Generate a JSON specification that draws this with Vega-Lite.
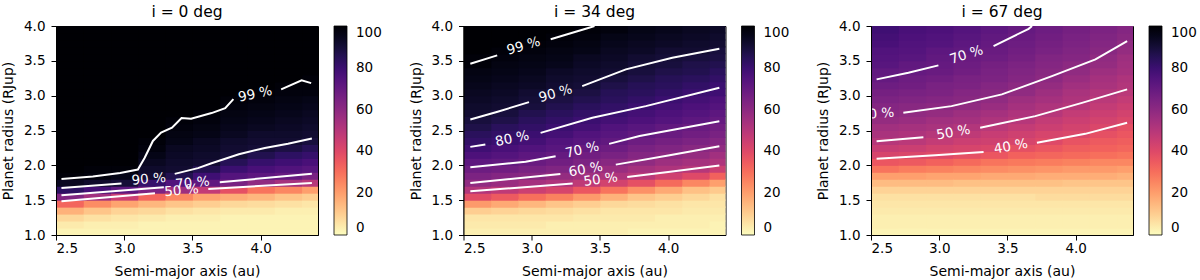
{
"$schema":"https://vega.github.io/schema/vega-lite/v6.json",
"padding":{"left":1,"top":4,"right":0,"bottom":0},
"config":{"font":"DejaVu Sans","view":{"stroke":"black","strokeWidth":1},
"axis":{"grid":false,"domainColor":"black","tickColor":"black","labelColor":"black","titleColor":"black","labelFontSize":13.5,"titleFontSize":14,"titleFontWeight":"normal","tickSize":5,"labelPadding":1,"titlePadding":10,"domainWidth":1,"tickWidth":1},
"axisY":{"labelPadding":6,"titlePadding":8},
"legend":{"labelFontSize":13.5,"labelColor":"black","padding":0},
"title":{"fontSize":15.5,"fontWeight":"normal","color":"black","offset":-1}},
"resolve":{"scale":{"color":"independent"}},
"spacing":25.5,
"datasets":{
"ha":[
{"x":2.5,"y":1,"v":2},{"x":2.5,"y":1.1,"v":4},{"x":2.5,"y":1.2,"v":8},{"x":2.5,"y":1.3,"v":16},{"x":2.5,"y":1.4,"v":32},{"x":2.5,"y":1.5,"v":63},{"x":2.5,"y":1.6,"v":83},{"x":2.5,"y":1.7,"v":94},{"x":2.5,"y":1.8,"v":99},{"x":2.5,"y":1.9,"v":100},{"x":2.5,"y":2,"v":100},{"x":2.5,"y":2.1,"v":100},{"x":2.5,"y":2.2,"v":100},{"x":2.5,"y":2.3,"v":100},{"x":2.5,"y":2.4,"v":100},{"x":2.5,"y":2.5,"v":100},{"x":2.5,"y":2.6,"v":100},{"x":2.5,"y":2.7,"v":100},{"x":2.5,"y":2.8,"v":100},{"x":2.5,"y":2.9,"v":100},{"x":2.5,"y":3,"v":100},{"x":2.5,"y":3.1,"v":100},{"x":2.5,"y":3.2,"v":100},{"x":2.5,"y":3.3,"v":100},{"x":2.5,"y":3.4,"v":100},{"x":2.5,"y":3.5,"v":100},{"x":2.5,"y":3.6,"v":100},{"x":2.5,"y":3.7,"v":100},{"x":2.5,"y":3.8,"v":100},{"x":2.5,"y":3.9,"v":100},
{"x":2.7,"y":1,"v":2},{"x":2.7,"y":1.1,"v":3},{"x":2.7,"y":1.2,"v":6},{"x":2.7,"y":1.3,"v":12},{"x":2.7,"y":1.4,"v":24},{"x":2.7,"y":1.5,"v":55},{"x":2.7,"y":1.6,"v":78},{"x":2.7,"y":1.7,"v":92},{"x":2.7,"y":1.8,"v":98},{"x":2.7,"y":1.9,"v":99},{"x":2.7,"y":2,"v":100},{"x":2.7,"y":2.1,"v":100},{"x":2.7,"y":2.2,"v":100},{"x":2.7,"y":2.3,"v":100},{"x":2.7,"y":2.4,"v":100},{"x":2.7,"y":2.5,"v":100},{"x":2.7,"y":2.6,"v":100},{"x":2.7,"y":2.7,"v":100},{"x":2.7,"y":2.8,"v":100},{"x":2.7,"y":2.9,"v":100},{"x":2.7,"y":3,"v":100},{"x":2.7,"y":3.1,"v":100},{"x":2.7,"y":3.2,"v":100},{"x":2.7,"y":3.3,"v":100},{"x":2.7,"y":3.4,"v":100},{"x":2.7,"y":3.5,"v":100},{"x":2.7,"y":3.6,"v":100},{"x":2.7,"y":3.7,"v":100},{"x":2.7,"y":3.8,"v":100},{"x":2.7,"y":3.9,"v":100},
{"x":2.9,"y":1,"v":2},{"x":2.9,"y":1.1,"v":3},{"x":2.9,"y":1.2,"v":5},{"x":2.9,"y":1.3,"v":9},{"x":2.9,"y":1.4,"v":19},{"x":2.9,"y":1.5,"v":45},{"x":2.9,"y":1.6,"v":72},{"x":2.9,"y":1.7,"v":90},{"x":2.9,"y":1.8,"v":96},{"x":2.9,"y":1.9,"v":99},{"x":2.9,"y":2,"v":100},{"x":2.9,"y":2.1,"v":100},{"x":2.9,"y":2.2,"v":100},{"x":2.9,"y":2.3,"v":100},{"x":2.9,"y":2.4,"v":100},{"x":2.9,"y":2.5,"v":100},{"x":2.9,"y":2.6,"v":100},{"x":2.9,"y":2.7,"v":100},{"x":2.9,"y":2.8,"v":100},{"x":2.9,"y":2.9,"v":100},{"x":2.9,"y":3,"v":100},{"x":2.9,"y":3.1,"v":100},{"x":2.9,"y":3.2,"v":100},{"x":2.9,"y":3.3,"v":100},{"x":2.9,"y":3.4,"v":100},{"x":2.9,"y":3.5,"v":100},{"x":2.9,"y":3.6,"v":100},{"x":2.9,"y":3.7,"v":100},{"x":2.9,"y":3.8,"v":100},{"x":2.9,"y":3.9,"v":100},
{"x":3.1,"y":1,"v":2},{"x":3.1,"y":1.1,"v":2},{"x":3.1,"y":1.2,"v":4},{"x":3.1,"y":1.3,"v":8},{"x":3.1,"y":1.4,"v":15},{"x":3.1,"y":1.5,"v":32},{"x":3.1,"y":1.6,"v":64},{"x":3.1,"y":1.7,"v":81},{"x":3.1,"y":1.8,"v":91},{"x":3.1,"y":1.9,"v":92},{"x":3.1,"y":2,"v":94},{"x":3.1,"y":2.1,"v":96},{"x":3.1,"y":2.2,"v":98},{"x":3.1,"y":2.3,"v":99},{"x":3.1,"y":2.4,"v":100},{"x":3.1,"y":2.5,"v":100},{"x":3.1,"y":2.6,"v":100},{"x":3.1,"y":2.7,"v":100},{"x":3.1,"y":2.8,"v":100},{"x":3.1,"y":2.9,"v":100},{"x":3.1,"y":3,"v":100},{"x":3.1,"y":3.1,"v":100},{"x":3.1,"y":3.2,"v":100},{"x":3.1,"y":3.3,"v":100},{"x":3.1,"y":3.4,"v":100},{"x":3.1,"y":3.5,"v":100},{"x":3.1,"y":3.6,"v":100},{"x":3.1,"y":3.7,"v":100},{"x":3.1,"y":3.8,"v":100},{"x":3.1,"y":3.9,"v":100},
{"x":3.3,"y":1,"v":2},{"x":3.3,"y":1.1,"v":2},{"x":3.3,"y":1.2,"v":3},{"x":3.3,"y":1.3,"v":6},{"x":3.3,"y":1.4,"v":12},{"x":3.3,"y":1.5,"v":25},{"x":3.3,"y":1.6,"v":56},{"x":3.3,"y":1.7,"v":75},{"x":3.3,"y":1.8,"v":86},{"x":3.3,"y":1.9,"v":91},{"x":3.3,"y":2,"v":92},{"x":3.3,"y":2.1,"v":93},{"x":3.3,"y":2.2,"v":94},{"x":3.3,"y":2.3,"v":96},{"x":3.3,"y":2.4,"v":97},{"x":3.3,"y":2.5,"v":98},{"x":3.3,"y":2.6,"v":99},{"x":3.3,"y":2.7,"v":100},{"x":3.3,"y":2.8,"v":100},{"x":3.3,"y":2.9,"v":100},{"x":3.3,"y":3,"v":100},{"x":3.3,"y":3.1,"v":100},{"x":3.3,"y":3.2,"v":100},{"x":3.3,"y":3.3,"v":100},{"x":3.3,"y":3.4,"v":100},{"x":3.3,"y":3.5,"v":100},{"x":3.3,"y":3.6,"v":100},{"x":3.3,"y":3.7,"v":100},{"x":3.3,"y":3.8,"v":100},{"x":3.3,"y":3.9,"v":100},
{"x":3.5,"y":1,"v":2},{"x":3.5,"y":1.1,"v":2},{"x":3.5,"y":1.2,"v":3},{"x":3.5,"y":1.3,"v":5},{"x":3.5,"y":1.4,"v":10},{"x":3.5,"y":1.5,"v":19},{"x":3.5,"y":1.6,"v":47},{"x":3.5,"y":1.7,"v":71},{"x":3.5,"y":1.8,"v":79},{"x":3.5,"y":1.9,"v":86},{"x":3.5,"y":2,"v":91},{"x":3.5,"y":2.1,"v":92},{"x":3.5,"y":2.2,"v":93},{"x":3.5,"y":2.3,"v":94},{"x":3.5,"y":2.4,"v":96},{"x":3.5,"y":2.5,"v":97},{"x":3.5,"y":2.6,"v":98},{"x":3.5,"y":2.7,"v":99},{"x":3.5,"y":2.8,"v":100},{"x":3.5,"y":2.9,"v":100},{"x":3.5,"y":3,"v":100},{"x":3.5,"y":3.1,"v":100},{"x":3.5,"y":3.2,"v":100},{"x":3.5,"y":3.3,"v":100},{"x":3.5,"y":3.4,"v":100},{"x":3.5,"y":3.5,"v":100},{"x":3.5,"y":3.6,"v":100},{"x":3.5,"y":3.7,"v":100},{"x":3.5,"y":3.8,"v":100},{"x":3.5,"y":3.9,"v":100},
{"x":3.7,"y":1,"v":2},{"x":3.7,"y":1.1,"v":2},{"x":3.7,"y":1.2,"v":2},{"x":3.7,"y":1.3,"v":4},{"x":3.7,"y":1.4,"v":8},{"x":3.7,"y":1.5,"v":17},{"x":3.7,"y":1.6,"v":38},{"x":3.7,"y":1.7,"v":65},{"x":3.7,"y":1.8,"v":74},{"x":3.7,"y":1.9,"v":80},{"x":3.7,"y":2,"v":85},{"x":3.7,"y":2.1,"v":90},{"x":3.7,"y":2.2,"v":91},{"x":3.7,"y":2.3,"v":92},{"x":3.7,"y":2.4,"v":94},{"x":3.7,"y":2.5,"v":95},{"x":3.7,"y":2.6,"v":96},{"x":3.7,"y":2.7,"v":97},{"x":3.7,"y":2.8,"v":98},{"x":3.7,"y":2.9,"v":99},{"x":3.7,"y":3,"v":100},{"x":3.7,"y":3.1,"v":100},{"x":3.7,"y":3.2,"v":100},{"x":3.7,"y":3.3,"v":100},{"x":3.7,"y":3.4,"v":100},{"x":3.7,"y":3.5,"v":100},{"x":3.7,"y":3.6,"v":100},{"x":3.7,"y":3.7,"v":100},{"x":3.7,"y":3.8,"v":100},{"x":3.7,"y":3.9,"v":100},
{"x":3.9,"y":1,"v":2},{"x":3.9,"y":1.1,"v":2},{"x":3.9,"y":1.2,"v":2},{"x":3.9,"y":1.3,"v":4},{"x":3.9,"y":1.4,"v":7},{"x":3.9,"y":1.5,"v":15},{"x":3.9,"y":1.6,"v":29},{"x":3.9,"y":1.7,"v":59},{"x":3.9,"y":1.8,"v":72},{"x":3.9,"y":1.9,"v":77},{"x":3.9,"y":2,"v":81},{"x":3.9,"y":2.1,"v":86},{"x":3.9,"y":2.2,"v":90},{"x":3.9,"y":2.3,"v":91},{"x":3.9,"y":2.4,"v":92},{"x":3.9,"y":2.5,"v":94},{"x":3.9,"y":2.6,"v":95},{"x":3.9,"y":2.7,"v":96},{"x":3.9,"y":2.8,"v":97},{"x":3.9,"y":2.9,"v":98},{"x":3.9,"y":3,"v":99},{"x":3.9,"y":3.1,"v":100},{"x":3.9,"y":3.2,"v":100},{"x":3.9,"y":3.3,"v":100},{"x":3.9,"y":3.4,"v":100},{"x":3.9,"y":3.5,"v":100},{"x":3.9,"y":3.6,"v":100},{"x":3.9,"y":3.7,"v":100},{"x":3.9,"y":3.8,"v":100},{"x":3.9,"y":3.9,"v":100},
{"x":4.1,"y":1,"v":2},{"x":4.1,"y":1.1,"v":2},{"x":4.1,"y":1.2,"v":2},{"x":4.1,"y":1.3,"v":3},{"x":4.1,"y":1.4,"v":6},{"x":4.1,"y":1.5,"v":12},{"x":4.1,"y":1.6,"v":25},{"x":4.1,"y":1.7,"v":54},{"x":4.1,"y":1.8,"v":70},{"x":4.1,"y":1.9,"v":75},{"x":4.1,"y":2,"v":79},{"x":4.1,"y":2.1,"v":83},{"x":4.1,"y":2.2,"v":88},{"x":4.1,"y":2.3,"v":91},{"x":4.1,"y":2.4,"v":92},{"x":4.1,"y":2.5,"v":93},{"x":4.1,"y":2.6,"v":94},{"x":4.1,"y":2.7,"v":95},{"x":4.1,"y":2.8,"v":96},{"x":4.1,"y":2.9,"v":97},{"x":4.1,"y":3,"v":98},{"x":4.1,"y":3.1,"v":99},{"x":4.1,"y":3.2,"v":100},{"x":4.1,"y":3.3,"v":100},{"x":4.1,"y":3.4,"v":100},{"x":4.1,"y":3.5,"v":100},{"x":4.1,"y":3.6,"v":100},{"x":4.1,"y":3.7,"v":100},{"x":4.1,"y":3.8,"v":100},{"x":4.1,"y":3.9,"v":100},
{"x":4.3,"y":1,"v":2},{"x":4.3,"y":1.1,"v":2},{"x":4.3,"y":1.2,"v":2},{"x":4.3,"y":1.3,"v":3},{"x":4.3,"y":1.4,"v":5},{"x":4.3,"y":1.5,"v":10},{"x":4.3,"y":1.6,"v":20},{"x":4.3,"y":1.7,"v":50},{"x":4.3,"y":1.8,"v":65},{"x":4.3,"y":1.9,"v":73},{"x":4.3,"y":2,"v":77},{"x":4.3,"y":2.1,"v":81},{"x":4.3,"y":2.2,"v":85},{"x":4.3,"y":2.3,"v":89},{"x":4.3,"y":2.4,"v":91},{"x":4.3,"y":2.5,"v":92},{"x":4.3,"y":2.6,"v":93},{"x":4.3,"y":2.7,"v":94},{"x":4.3,"y":2.8,"v":95},{"x":4.3,"y":2.9,"v":96},{"x":4.3,"y":3,"v":98},{"x":4.3,"y":3.1,"v":99},{"x":4.3,"y":3.2,"v":99},{"x":4.3,"y":3.3,"v":100},{"x":4.3,"y":3.4,"v":100},{"x":4.3,"y":3.5,"v":100},{"x":4.3,"y":3.6,"v":100},{"x":4.3,"y":3.7,"v":100},{"x":4.3,"y":3.8,"v":100},{"x":4.3,"y":3.9,"v":100}
],
"hb":[
{"x":2.5,"y":1,"v":3},{"x":2.5,"y":1.1,"v":4},{"x":2.5,"y":1.2,"v":5},{"x":2.5,"y":1.3,"v":10},{"x":2.5,"y":1.4,"v":21},{"x":2.5,"y":1.5,"v":39},{"x":2.5,"y":1.6,"v":51},{"x":2.5,"y":1.7,"v":59},{"x":2.5,"y":1.8,"v":64},{"x":2.5,"y":1.9,"v":68},{"x":2.5,"y":2,"v":72},{"x":2.5,"y":2.1,"v":76},{"x":2.5,"y":2.2,"v":79},{"x":2.5,"y":2.3,"v":82},{"x":2.5,"y":2.4,"v":84},{"x":2.5,"y":2.5,"v":87},{"x":2.5,"y":2.6,"v":89},{"x":2.5,"y":2.7,"v":91},{"x":2.5,"y":2.8,"v":92},{"x":2.5,"y":2.9,"v":93},{"x":2.5,"y":3,"v":94},{"x":2.5,"y":3.1,"v":95},{"x":2.5,"y":3.2,"v":96},{"x":2.5,"y":3.3,"v":97},{"x":2.5,"y":3.4,"v":99},{"x":2.5,"y":3.5,"v":99},{"x":2.5,"y":3.6,"v":100},{"x":2.5,"y":3.7,"v":100},{"x":2.5,"y":3.8,"v":100},{"x":2.5,"y":3.9,"v":100},
{"x":2.7,"y":1,"v":3},{"x":2.7,"y":1.1,"v":4},{"x":2.7,"y":1.2,"v":5},{"x":2.7,"y":1.3,"v":9},{"x":2.7,"y":1.4,"v":18},{"x":2.7,"y":1.5,"v":35},{"x":2.7,"y":1.6,"v":48},{"x":2.7,"y":1.7,"v":57},{"x":2.7,"y":1.8,"v":62},{"x":2.7,"y":1.9,"v":67},{"x":2.7,"y":2,"v":71},{"x":2.7,"y":2.1,"v":74},{"x":2.7,"y":2.2,"v":77},{"x":2.7,"y":2.3,"v":80},{"x":2.7,"y":2.4,"v":82},{"x":2.7,"y":2.5,"v":84},{"x":2.7,"y":2.6,"v":87},{"x":2.7,"y":2.7,"v":89},{"x":2.7,"y":2.8,"v":91},{"x":2.7,"y":2.9,"v":92},{"x":2.7,"y":3,"v":93},{"x":2.7,"y":3.1,"v":94},{"x":2.7,"y":3.2,"v":95},{"x":2.7,"y":3.3,"v":96},{"x":2.7,"y":3.4,"v":97},{"x":2.7,"y":3.5,"v":98},{"x":2.7,"y":3.6,"v":99},{"x":2.7,"y":3.7,"v":100},{"x":2.7,"y":3.8,"v":100},{"x":2.7,"y":3.9,"v":100},
{"x":2.9,"y":1,"v":3},{"x":2.9,"y":1.1,"v":4},{"x":2.9,"y":1.2,"v":5},{"x":2.9,"y":1.3,"v":8},{"x":2.9,"y":1.4,"v":15},{"x":2.9,"y":1.5,"v":30},{"x":2.9,"y":1.6,"v":45},{"x":2.9,"y":1.7,"v":54},{"x":2.9,"y":1.8,"v":61},{"x":2.9,"y":1.9,"v":65},{"x":2.9,"y":2,"v":69},{"x":2.9,"y":2.1,"v":72},{"x":2.9,"y":2.2,"v":75},{"x":2.9,"y":2.3,"v":78},{"x":2.9,"y":2.4,"v":80},{"x":2.9,"y":2.5,"v":82},{"x":2.9,"y":2.6,"v":84},{"x":2.9,"y":2.7,"v":86},{"x":2.9,"y":2.8,"v":89},{"x":2.9,"y":2.9,"v":90},{"x":2.9,"y":3,"v":91},{"x":2.9,"y":3.1,"v":93},{"x":2.9,"y":3.2,"v":94},{"x":2.9,"y":3.3,"v":95},{"x":2.9,"y":3.4,"v":96},{"x":2.9,"y":3.5,"v":97},{"x":2.9,"y":3.6,"v":98},{"x":2.9,"y":3.7,"v":99},{"x":2.9,"y":3.8,"v":100},{"x":2.9,"y":3.9,"v":100},
{"x":3.1,"y":1,"v":3},{"x":3.1,"y":1.1,"v":3},{"x":3.1,"y":1.2,"v":5},{"x":3.1,"y":1.3,"v":7},{"x":3.1,"y":1.4,"v":12},{"x":3.1,"y":1.5,"v":26},{"x":3.1,"y":1.6,"v":42},{"x":3.1,"y":1.7,"v":52},{"x":3.1,"y":1.8,"v":58},{"x":3.1,"y":1.9,"v":63},{"x":3.1,"y":2,"v":67},{"x":3.1,"y":2.1,"v":70},{"x":3.1,"y":2.2,"v":73},{"x":3.1,"y":2.3,"v":75},{"x":3.1,"y":2.4,"v":78},{"x":3.1,"y":2.5,"v":80},{"x":3.1,"y":2.6,"v":82},{"x":3.1,"y":2.7,"v":84},{"x":3.1,"y":2.8,"v":86},{"x":3.1,"y":2.9,"v":88},{"x":3.1,"y":3,"v":90},{"x":3.1,"y":3.1,"v":91},{"x":3.1,"y":3.2,"v":92},{"x":3.1,"y":3.3,"v":93},{"x":3.1,"y":3.4,"v":95},{"x":3.1,"y":3.5,"v":96},{"x":3.1,"y":3.6,"v":97},{"x":3.1,"y":3.7,"v":98},{"x":3.1,"y":3.8,"v":99},{"x":3.1,"y":3.9,"v":100},
{"x":3.3,"y":1,"v":3},{"x":3.3,"y":1.1,"v":3},{"x":3.3,"y":1.2,"v":4},{"x":3.3,"y":1.3,"v":6},{"x":3.3,"y":1.4,"v":10},{"x":3.3,"y":1.5,"v":21},{"x":3.3,"y":1.6,"v":36},{"x":3.3,"y":1.7,"v":48},{"x":3.3,"y":1.8,"v":55},{"x":3.3,"y":1.9,"v":60},{"x":3.3,"y":2,"v":64},{"x":3.3,"y":2.1,"v":67},{"x":3.3,"y":2.2,"v":70},{"x":3.3,"y":2.3,"v":73},{"x":3.3,"y":2.4,"v":75},{"x":3.3,"y":2.5,"v":78},{"x":3.3,"y":2.6,"v":80},{"x":3.3,"y":2.7,"v":82},{"x":3.3,"y":2.8,"v":84},{"x":3.3,"y":2.9,"v":86},{"x":3.3,"y":3,"v":88},{"x":3.3,"y":3.1,"v":90},{"x":3.3,"y":3.2,"v":91},{"x":3.3,"y":3.3,"v":92},{"x":3.3,"y":3.4,"v":93},{"x":3.3,"y":3.5,"v":94},{"x":3.3,"y":3.6,"v":96},{"x":3.3,"y":3.7,"v":97},{"x":3.3,"y":3.8,"v":98},{"x":3.3,"y":3.9,"v":99},
{"x":3.5,"y":1,"v":3},{"x":3.5,"y":1.1,"v":3},{"x":3.5,"y":1.2,"v":4},{"x":3.5,"y":1.3,"v":5},{"x":3.5,"y":1.4,"v":8},{"x":3.5,"y":1.5,"v":16},{"x":3.5,"y":1.6,"v":29},{"x":3.5,"y":1.7,"v":43},{"x":3.5,"y":1.8,"v":52},{"x":3.5,"y":1.9,"v":57},{"x":3.5,"y":2,"v":61},{"x":3.5,"y":2.1,"v":65},{"x":3.5,"y":2.2,"v":68},{"x":3.5,"y":2.3,"v":71},{"x":3.5,"y":2.4,"v":73},{"x":3.5,"y":2.5,"v":75},{"x":3.5,"y":2.6,"v":78},{"x":3.5,"y":2.7,"v":80},{"x":3.5,"y":2.8,"v":82},{"x":3.5,"y":2.9,"v":84},{"x":3.5,"y":3,"v":85},{"x":3.5,"y":3.1,"v":87},{"x":3.5,"y":3.2,"v":89},{"x":3.5,"y":3.3,"v":91},{"x":3.5,"y":3.4,"v":92},{"x":3.5,"y":3.5,"v":93},{"x":3.5,"y":3.6,"v":94},{"x":3.5,"y":3.7,"v":95},{"x":3.5,"y":3.8,"v":96},{"x":3.5,"y":3.9,"v":98},
{"x":3.7,"y":1,"v":2},{"x":3.7,"y":1.1,"v":3},{"x":3.7,"y":1.2,"v":4},{"x":3.7,"y":1.3,"v":5},{"x":3.7,"y":1.4,"v":7},{"x":3.7,"y":1.5,"v":12},{"x":3.7,"y":1.6,"v":23},{"x":3.7,"y":1.7,"v":38},{"x":3.7,"y":1.8,"v":49},{"x":3.7,"y":1.9,"v":54},{"x":3.7,"y":2,"v":59},{"x":3.7,"y":2.1,"v":62},{"x":3.7,"y":2.2,"v":65},{"x":3.7,"y":2.3,"v":68},{"x":3.7,"y":2.4,"v":71},{"x":3.7,"y":2.5,"v":73},{"x":3.7,"y":2.6,"v":76},{"x":3.7,"y":2.7,"v":78},{"x":3.7,"y":2.8,"v":80},{"x":3.7,"y":2.9,"v":82},{"x":3.7,"y":3,"v":84},{"x":3.7,"y":3.1,"v":85},{"x":3.7,"y":3.2,"v":87},{"x":3.7,"y":3.3,"v":89},{"x":3.7,"y":3.4,"v":90},{"x":3.7,"y":3.5,"v":91},{"x":3.7,"y":3.6,"v":93},{"x":3.7,"y":3.7,"v":94},{"x":3.7,"y":3.8,"v":95},{"x":3.7,"y":3.9,"v":96},
{"x":3.9,"y":1,"v":2},{"x":3.9,"y":1.1,"v":3},{"x":3.9,"y":1.2,"v":3},{"x":3.9,"y":1.3,"v":5},{"x":3.9,"y":1.4,"v":6},{"x":3.9,"y":1.5,"v":10},{"x":3.9,"y":1.6,"v":18},{"x":3.9,"y":1.7,"v":31},{"x":3.9,"y":1.8,"v":44},{"x":3.9,"y":1.9,"v":52},{"x":3.9,"y":2,"v":56},{"x":3.9,"y":2.1,"v":60},{"x":3.9,"y":2.2,"v":63},{"x":3.9,"y":2.3,"v":66},{"x":3.9,"y":2.4,"v":69},{"x":3.9,"y":2.5,"v":71},{"x":3.9,"y":2.6,"v":74},{"x":3.9,"y":2.7,"v":76},{"x":3.9,"y":2.8,"v":78},{"x":3.9,"y":2.9,"v":80},{"x":3.9,"y":3,"v":82},{"x":3.9,"y":3.1,"v":84},{"x":3.9,"y":3.2,"v":85},{"x":3.9,"y":3.3,"v":87},{"x":3.9,"y":3.4,"v":89},{"x":3.9,"y":3.5,"v":90},{"x":3.9,"y":3.6,"v":91},{"x":3.9,"y":3.7,"v":93},{"x":3.9,"y":3.8,"v":94},{"x":3.9,"y":3.9,"v":95},
{"x":4.1,"y":1,"v":2},{"x":4.1,"y":1.1,"v":3},{"x":4.1,"y":1.2,"v":3},{"x":4.1,"y":1.3,"v":4},{"x":4.1,"y":1.4,"v":5},{"x":4.1,"y":1.5,"v":8},{"x":4.1,"y":1.6,"v":13},{"x":4.1,"y":1.7,"v":25},{"x":4.1,"y":1.8,"v":40},{"x":4.1,"y":1.9,"v":50},{"x":4.1,"y":2,"v":54},{"x":4.1,"y":2.1,"v":58},{"x":4.1,"y":2.2,"v":61},{"x":4.1,"y":2.3,"v":64},{"x":4.1,"y":2.4,"v":67},{"x":4.1,"y":2.5,"v":69},{"x":4.1,"y":2.6,"v":72},{"x":4.1,"y":2.7,"v":74},{"x":4.1,"y":2.8,"v":76},{"x":4.1,"y":2.9,"v":78},{"x":4.1,"y":3,"v":80},{"x":4.1,"y":3.1,"v":82},{"x":4.1,"y":3.2,"v":84},{"x":4.1,"y":3.3,"v":86},{"x":4.1,"y":3.4,"v":87},{"x":4.1,"y":3.5,"v":89},{"x":4.1,"y":3.6,"v":91},{"x":4.1,"y":3.7,"v":92},{"x":4.1,"y":3.8,"v":93},{"x":4.1,"y":3.9,"v":94},
{"x":4.3,"y":1,"v":2},{"x":4.3,"y":1.1,"v":2},{"x":4.3,"y":1.2,"v":3},{"x":4.3,"y":1.3,"v":4},{"x":4.3,"y":1.4,"v":5},{"x":4.3,"y":1.5,"v":6},{"x":4.3,"y":1.6,"v":11},{"x":4.3,"y":1.7,"v":20},{"x":4.3,"y":1.8,"v":33},{"x":4.3,"y":1.9,"v":45},{"x":4.3,"y":2,"v":52},{"x":4.3,"y":2.1,"v":55},{"x":4.3,"y":2.2,"v":59},{"x":4.3,"y":2.3,"v":62},{"x":4.3,"y":2.4,"v":65},{"x":4.3,"y":2.5,"v":67},{"x":4.3,"y":2.6,"v":70},{"x":4.3,"y":2.7,"v":72},{"x":4.3,"y":2.8,"v":74},{"x":4.3,"y":2.9,"v":76},{"x":4.3,"y":3,"v":79},{"x":4.3,"y":3.1,"v":80},{"x":4.3,"y":3.2,"v":82},{"x":4.3,"y":3.3,"v":84},{"x":4.3,"y":3.4,"v":86},{"x":4.3,"y":3.5,"v":88},{"x":4.3,"y":3.6,"v":89},{"x":4.3,"y":3.7,"v":91},{"x":4.3,"y":3.8,"v":92},{"x":4.3,"y":3.9,"v":93}
],
"hc":[
{"x":2.5,"y":1,"v":2},{"x":2.5,"y":1.1,"v":3},{"x":2.5,"y":1.2,"v":3},{"x":2.5,"y":1.3,"v":4},{"x":2.5,"y":1.4,"v":5},{"x":2.5,"y":1.5,"v":6},{"x":2.5,"y":1.6,"v":9},{"x":2.5,"y":1.7,"v":14},{"x":2.5,"y":1.8,"v":20},{"x":2.5,"y":1.9,"v":29},{"x":2.5,"y":2,"v":36},{"x":2.5,"y":2.1,"v":42},{"x":2.5,"y":2.2,"v":46},{"x":2.5,"y":2.3,"v":50},{"x":2.5,"y":2.4,"v":53},{"x":2.5,"y":2.5,"v":55},{"x":2.5,"y":2.6,"v":58},{"x":2.5,"y":2.7,"v":60},{"x":2.5,"y":2.8,"v":62},{"x":2.5,"y":2.9,"v":64},{"x":2.5,"y":3,"v":66},{"x":2.5,"y":3.1,"v":68},{"x":2.5,"y":3.2,"v":70},{"x":2.5,"y":3.3,"v":71},{"x":2.5,"y":3.4,"v":73},{"x":2.5,"y":3.5,"v":74},{"x":2.5,"y":3.6,"v":75},{"x":2.5,"y":3.7,"v":77},{"x":2.5,"y":3.8,"v":78},{"x":2.5,"y":3.9,"v":79},
{"x":2.7,"y":1,"v":2},{"x":2.7,"y":1.1,"v":3},{"x":2.7,"y":1.2,"v":3},{"x":2.7,"y":1.3,"v":4},{"x":2.7,"y":1.4,"v":5},{"x":2.7,"y":1.5,"v":6},{"x":2.7,"y":1.6,"v":9},{"x":2.7,"y":1.7,"v":14},{"x":2.7,"y":1.8,"v":20},{"x":2.7,"y":1.9,"v":27},{"x":2.7,"y":2,"v":35},{"x":2.7,"y":2.1,"v":41},{"x":2.7,"y":2.2,"v":45},{"x":2.7,"y":2.3,"v":49},{"x":2.7,"y":2.4,"v":52},{"x":2.7,"y":2.5,"v":54},{"x":2.7,"y":2.6,"v":57},{"x":2.7,"y":2.7,"v":59},{"x":2.7,"y":2.8,"v":61},{"x":2.7,"y":2.9,"v":63},{"x":2.7,"y":3,"v":65},{"x":2.7,"y":3.1,"v":67},{"x":2.7,"y":3.2,"v":68},{"x":2.7,"y":3.3,"v":70},{"x":2.7,"y":3.4,"v":71},{"x":2.7,"y":3.5,"v":73},{"x":2.7,"y":3.6,"v":74},{"x":2.7,"y":3.7,"v":75},{"x":2.7,"y":3.8,"v":76},{"x":2.7,"y":3.9,"v":77},
{"x":2.9,"y":1,"v":2},{"x":2.9,"y":1.1,"v":3},{"x":2.9,"y":1.2,"v":3},{"x":2.9,"y":1.3,"v":4},{"x":2.9,"y":1.4,"v":5},{"x":2.9,"y":1.5,"v":6},{"x":2.9,"y":1.6,"v":9},{"x":2.9,"y":1.7,"v":14},{"x":2.9,"y":1.8,"v":19},{"x":2.9,"y":1.9,"v":26},{"x":2.9,"y":2,"v":33},{"x":2.9,"y":2.1,"v":40},{"x":2.9,"y":2.2,"v":43},{"x":2.9,"y":2.3,"v":47},{"x":2.9,"y":2.4,"v":50},{"x":2.9,"y":2.5,"v":53},{"x":2.9,"y":2.6,"v":55},{"x":2.9,"y":2.7,"v":58},{"x":2.9,"y":2.8,"v":60},{"x":2.9,"y":2.9,"v":62},{"x":2.9,"y":3,"v":64},{"x":2.9,"y":3.1,"v":65},{"x":2.9,"y":3.2,"v":67},{"x":2.9,"y":3.3,"v":69},{"x":2.9,"y":3.4,"v":70},{"x":2.9,"y":3.5,"v":71},{"x":2.9,"y":3.6,"v":72},{"x":2.9,"y":3.7,"v":74},{"x":2.9,"y":3.8,"v":75},{"x":2.9,"y":3.9,"v":76},
{"x":3.1,"y":1,"v":2},{"x":3.1,"y":1.1,"v":3},{"x":3.1,"y":1.2,"v":3},{"x":3.1,"y":1.3,"v":4},{"x":3.1,"y":1.4,"v":5},{"x":3.1,"y":1.5,"v":6},{"x":3.1,"y":1.6,"v":9},{"x":3.1,"y":1.7,"v":13},{"x":3.1,"y":1.8,"v":19},{"x":3.1,"y":1.9,"v":25},{"x":3.1,"y":2,"v":31},{"x":3.1,"y":2.1,"v":38},{"x":3.1,"y":2.2,"v":42},{"x":3.1,"y":2.3,"v":45},{"x":3.1,"y":2.4,"v":48},{"x":3.1,"y":2.5,"v":51},{"x":3.1,"y":2.6,"v":54},{"x":3.1,"y":2.7,"v":56},{"x":3.1,"y":2.8,"v":59},{"x":3.1,"y":2.9,"v":61},{"x":3.1,"y":3,"v":62},{"x":3.1,"y":3.1,"v":64},{"x":3.1,"y":3.2,"v":65},{"x":3.1,"y":3.3,"v":67},{"x":3.1,"y":3.4,"v":68},{"x":3.1,"y":3.5,"v":69},{"x":3.1,"y":3.6,"v":71},{"x":3.1,"y":3.7,"v":72},{"x":3.1,"y":3.8,"v":73},{"x":3.1,"y":3.9,"v":74},
{"x":3.3,"y":1,"v":2},{"x":3.3,"y":1.1,"v":3},{"x":3.3,"y":1.2,"v":3},{"x":3.3,"y":1.3,"v":4},{"x":3.3,"y":1.4,"v":5},{"x":3.3,"y":1.5,"v":6},{"x":3.3,"y":1.6,"v":9},{"x":3.3,"y":1.7,"v":13},{"x":3.3,"y":1.8,"v":18},{"x":3.3,"y":1.9,"v":24},{"x":3.3,"y":2,"v":29},{"x":3.3,"y":2.1,"v":36},{"x":3.3,"y":2.2,"v":41},{"x":3.3,"y":2.3,"v":44},{"x":3.3,"y":2.4,"v":46},{"x":3.3,"y":2.5,"v":49},{"x":3.3,"y":2.6,"v":52},{"x":3.3,"y":2.7,"v":54},{"x":3.3,"y":2.8,"v":57},{"x":3.3,"y":2.9,"v":59},{"x":3.3,"y":3,"v":61},{"x":3.3,"y":3.1,"v":62},{"x":3.3,"y":3.2,"v":64},{"x":3.3,"y":3.3,"v":65},{"x":3.3,"y":3.4,"v":66},{"x":3.3,"y":3.5,"v":68},{"x":3.3,"y":3.6,"v":69},{"x":3.3,"y":3.7,"v":70},{"x":3.3,"y":3.8,"v":71},{"x":3.3,"y":3.9,"v":72},
{"x":3.5,"y":1,"v":2},{"x":3.5,"y":1.1,"v":3},{"x":3.5,"y":1.2,"v":3},{"x":3.5,"y":1.3,"v":4},{"x":3.5,"y":1.4,"v":5},{"x":3.5,"y":1.5,"v":6},{"x":3.5,"y":1.6,"v":9},{"x":3.5,"y":1.7,"v":13},{"x":3.5,"y":1.8,"v":18},{"x":3.5,"y":1.9,"v":23},{"x":3.5,"y":2,"v":28},{"x":3.5,"y":2.1,"v":33},{"x":3.5,"y":2.2,"v":38},{"x":3.5,"y":2.3,"v":42},{"x":3.5,"y":2.4,"v":44},{"x":3.5,"y":2.5,"v":47},{"x":3.5,"y":2.6,"v":50},{"x":3.5,"y":2.7,"v":52},{"x":3.5,"y":2.8,"v":54},{"x":3.5,"y":2.9,"v":56},{"x":3.5,"y":3,"v":59},{"x":3.5,"y":3.1,"v":60},{"x":3.5,"y":3.2,"v":62},{"x":3.5,"y":3.3,"v":63},{"x":3.5,"y":3.4,"v":64},{"x":3.5,"y":3.5,"v":66},{"x":3.5,"y":3.6,"v":67},{"x":3.5,"y":3.7,"v":68},{"x":3.5,"y":3.8,"v":69},{"x":3.5,"y":3.9,"v":70},
{"x":3.7,"y":1,"v":2},{"x":3.7,"y":1.1,"v":3},{"x":3.7,"y":1.2,"v":3},{"x":3.7,"y":1.3,"v":4},{"x":3.7,"y":1.4,"v":5},{"x":3.7,"y":1.5,"v":7},{"x":3.7,"y":1.6,"v":9},{"x":3.7,"y":1.7,"v":13},{"x":3.7,"y":1.8,"v":17},{"x":3.7,"y":1.9,"v":22},{"x":3.7,"y":2,"v":27},{"x":3.7,"y":2.1,"v":32},{"x":3.7,"y":2.2,"v":36},{"x":3.7,"y":2.3,"v":40},{"x":3.7,"y":2.4,"v":42},{"x":3.7,"y":2.5,"v":45},{"x":3.7,"y":2.6,"v":47},{"x":3.7,"y":2.7,"v":50},{"x":3.7,"y":2.8,"v":52},{"x":3.7,"y":2.9,"v":54},{"x":3.7,"y":3,"v":56},{"x":3.7,"y":3.1,"v":58},{"x":3.7,"y":3.2,"v":60},{"x":3.7,"y":3.3,"v":61},{"x":3.7,"y":3.4,"v":62},{"x":3.7,"y":3.5,"v":63},{"x":3.7,"y":3.6,"v":65},{"x":3.7,"y":3.7,"v":66},{"x":3.7,"y":3.8,"v":67},{"x":3.7,"y":3.9,"v":68},
{"x":3.9,"y":1,"v":2},{"x":3.9,"y":1.1,"v":3},{"x":3.9,"y":1.2,"v":3},{"x":3.9,"y":1.3,"v":4},{"x":3.9,"y":1.4,"v":5},{"x":3.9,"y":1.5,"v":7},{"x":3.9,"y":1.6,"v":9},{"x":3.9,"y":1.7,"v":12},{"x":3.9,"y":1.8,"v":17},{"x":3.9,"y":1.9,"v":21},{"x":3.9,"y":2,"v":26},{"x":3.9,"y":2.1,"v":31},{"x":3.9,"y":2.2,"v":34},{"x":3.9,"y":2.3,"v":37},{"x":3.9,"y":2.4,"v":41},{"x":3.9,"y":2.5,"v":43},{"x":3.9,"y":2.6,"v":45},{"x":3.9,"y":2.7,"v":47},{"x":3.9,"y":2.8,"v":50},{"x":3.9,"y":2.9,"v":52},{"x":3.9,"y":3,"v":53},{"x":3.9,"y":3.1,"v":55},{"x":3.9,"y":3.2,"v":57},{"x":3.9,"y":3.3,"v":59},{"x":3.9,"y":3.4,"v":60},{"x":3.9,"y":3.5,"v":62},{"x":3.9,"y":3.6,"v":63},{"x":3.9,"y":3.7,"v":64},{"x":3.9,"y":3.8,"v":65},{"x":3.9,"y":3.9,"v":66},
{"x":4.1,"y":1,"v":2},{"x":4.1,"y":1.1,"v":3},{"x":4.1,"y":1.2,"v":3},{"x":4.1,"y":1.3,"v":4},{"x":4.1,"y":1.4,"v":5},{"x":4.1,"y":1.5,"v":7},{"x":4.1,"y":1.6,"v":9},{"x":4.1,"y":1.7,"v":12},{"x":4.1,"y":1.8,"v":17},{"x":4.1,"y":1.9,"v":21},{"x":4.1,"y":2,"v":25},{"x":4.1,"y":2.1,"v":30},{"x":4.1,"y":2.2,"v":33},{"x":4.1,"y":2.3,"v":35},{"x":4.1,"y":2.4,"v":38},{"x":4.1,"y":2.5,"v":41},{"x":4.1,"y":2.6,"v":43},{"x":4.1,"y":2.7,"v":45},{"x":4.1,"y":2.8,"v":47},{"x":4.1,"y":2.9,"v":49},{"x":4.1,"y":3,"v":51},{"x":4.1,"y":3.1,"v":53},{"x":4.1,"y":3.2,"v":54},{"x":4.1,"y":3.3,"v":56},{"x":4.1,"y":3.4,"v":58},{"x":4.1,"y":3.5,"v":59},{"x":4.1,"y":3.6,"v":61},{"x":4.1,"y":3.7,"v":62},{"x":4.1,"y":3.8,"v":63},{"x":4.1,"y":3.9,"v":64},
{"x":4.3,"y":1,"v":2},{"x":4.3,"y":1.1,"v":3},{"x":4.3,"y":1.2,"v":3},{"x":4.3,"y":1.3,"v":4},{"x":4.3,"y":1.4,"v":5},{"x":4.3,"y":1.5,"v":7},{"x":4.3,"y":1.6,"v":9},{"x":4.3,"y":1.7,"v":12},{"x":4.3,"y":1.8,"v":16},{"x":4.3,"y":1.9,"v":20},{"x":4.3,"y":2,"v":25},{"x":4.3,"y":2.1,"v":29},{"x":4.3,"y":2.2,"v":32},{"x":4.3,"y":2.3,"v":34},{"x":4.3,"y":2.4,"v":36},{"x":4.3,"y":2.5,"v":38},{"x":4.3,"y":2.6,"v":41},{"x":4.3,"y":2.7,"v":43},{"x":4.3,"y":2.8,"v":45},{"x":4.3,"y":2.9,"v":47},{"x":4.3,"y":3,"v":49},{"x":4.3,"y":3.1,"v":51},{"x":4.3,"y":3.2,"v":52},{"x":4.3,"y":3.3,"v":54},{"x":4.3,"y":3.4,"v":55},{"x":4.3,"y":3.5,"v":56},{"x":4.3,"y":3.6,"v":58},{"x":4.3,"y":3.7,"v":59},{"x":4.3,"y":3.8,"v":61},{"x":4.3,"y":3.9,"v":62}
],
"la":[
{"k":"99a","x":2.54,"y":1.805},{"k":"99a","x":2.77,"y":1.84},{"k":"99a","x":2.97,"y":1.89},{"k":"99a","x":3.1,"y":1.94},{"k":"99a","x":3.15,"y":2.11},{"k":"99a","x":3.21,"y":2.35},{"k":"99a","x":3.27,"y":2.47},{"k":"99a","x":3.35,"y":2.54},{"k":"99a","x":3.42,"y":2.68},{"k":"99a","x":3.49,"y":2.67},{"k":"99a","x":3.64,"y":2.75},{"k":"99a","x":3.74,"y":2.82},{"k":"99a","x":3.8,"y":2.95},
{"k":"99b","x":4.15,"y":3.09},{"k":"99b","x":4.3,"y":3.22},{"k":"99b","x":4.37,"y":3.18},
{"k":"90a","x":2.54,"y":1.676},{"k":"90a","x":2.98,"y":1.74},
{"k":"90b","x":3.37,"y":1.877},{"k":"90b","x":3.54,"y":1.96},{"k":"90b","x":3.64,"y":2.03},{"k":"90b","x":3.84,"y":2.16},{"k":"90b","x":4.03,"y":2.25},{"k":"90b","x":4.2,"y":2.31},{"k":"90b","x":4.375,"y":2.385},
{"k":"70a","x":2.54,"y":1.571},{"k":"70a","x":3.29,"y":1.686},
{"k":"70b","x":3.7,"y":1.757},{"k":"70b","x":4.375,"y":1.88},
{"k":"50a","x":2.54,"y":1.484},{"k":"50a","x":3.225,"y":1.6},
{"k":"50b","x":3.616,"y":1.66},{"k":"50b","x":4.375,"y":1.747}
],
"lb":[
{"k":"99a","x":2.55,"y":3.458},{"k":"99a","x":2.747,"y":3.579},
{"k":"99b","x":3.139,"y":3.81},{"k":"99b","x":3.42,"y":3.975},{"k":"99b","x":3.46,"y":4.0},
{"k":"90a","x":2.55,"y":2.659},{"k":"90a","x":2.75,"y":2.77},{"k":"90a","x":2.98,"y":2.907},
{"k":"90b","x":3.37,"y":3.137},{"k":"90b","x":3.69,"y":3.377},{"k":"90b","x":4.03,"y":3.544},{"k":"90b","x":4.375,"y":3.674},
{"k":"80a","x":2.55,"y":2.265},{"k":"80a","x":2.66,"y":2.3},
{"k":"80b","x":3.065,"y":2.466},{"k":"80b","x":3.444,"y":2.682},{"k":"80b","x":3.836,"y":2.85},{"k":"80b","x":4.375,"y":3.113},
{"k":"70a","x":2.55,"y":1.973},{"k":"70a","x":2.955,"y":2.05},{"k":"70a","x":3.175,"y":2.13},
{"k":"70b","x":3.567,"y":2.308},{"k":"70b","x":3.79,"y":2.42},{"k":"70b","x":4.375,"y":2.634},
{"k":"60a","x":2.55,"y":1.747},{"k":"60a","x":3.21,"y":1.877},
{"k":"60b","x":3.616,"y":2.01},{"k":"60b","x":4.0,"y":2.14},{"k":"60b","x":4.375,"y":2.275},
{"k":"50a","x":2.55,"y":1.628},{"k":"50a","x":3.3,"y":1.739},
{"k":"50b","x":3.7,"y":1.834},{"k":"50b","x":4.0,"y":1.905},{"k":"50b","x":4.375,"y":1.997}
],
"lc":[
{"k":"70a","x":2.541,"y":3.234},{"k":"70a","x":2.774,"y":3.329},{"k":"70a","x":2.994,"y":3.435},
{"k":"70b","x":3.398,"y":3.712},{"k":"70b","x":3.655,"y":3.96},{"k":"70b","x":3.68,"y":4.0},
{"k":"60b","x":2.737,"y":2.754},{"k":"60b","x":3.09,"y":2.85},{"k":"60b","x":3.459,"y":3.018},{"k":"60b","x":3.826,"y":3.281},{"k":"60b","x":4.145,"y":3.52},{"k":"60b","x":4.377,"y":3.784},
{"k":"50a","x":2.541,"y":2.347},{"k":"50a","x":2.884,"y":2.404},
{"k":"50b","x":3.3,"y":2.538},{"k":"50b","x":3.704,"y":2.706},{"k":"50b","x":4.046,"y":2.897},{"k":"50b","x":4.377,"y":3.09},
{"k":"40a","x":2.541,"y":2.093},{"k":"40a","x":2.97,"y":2.146},{"k":"40a","x":3.325,"y":2.193},
{"k":"40b","x":3.716,"y":2.323},{"k":"40b","x":3.973,"y":2.419},{"k":"40b","x":4.07,"y":2.452},{"k":"40b","x":4.377,"y":2.61}
],
"ta":[
{"t":"99 %","x":3.96,"y":3.02,"g":-12},{"t":"90 %","x":3.18,"y":1.8,"g":-5},{"t":"70 %","x":3.5,"y":1.745,"g":-6},{"t":"50 %","x":3.42,"y":1.635,"g":-5}
],
"tb":[
{"t":"99 %","x":2.94,"y":3.71,"g":-16},{"t":"90 %","x":3.175,"y":3.03,"g":-16},{"t":"80 %","x":2.857,"y":2.38,"g":-12},{"t":"70 %","x":3.37,"y":2.22,"g":-13},{"t":"60 %","x":3.396,"y":1.94,"g":-10},{"t":"50 %","x":3.506,"y":1.796,"g":-8}
],
"tc":[
{"t":"70 %","x":3.2,"y":3.585,"g":-18},{"t":"60 %","x":2.545,"y":2.735,"g":-5},{"t":"50 %","x":3.104,"y":2.47,"g":-10},{"t":"40 %","x":3.525,"y":2.268,"g":-10}
]
},
"hconcat":[
{"title":"i = 0 deg","width":262,"height":209,"layer":[
{"data":{"name":"ha"},"mark":{"type":"rect","clip":true},"encoding":{
"x":{"field":"x","type":"quantitative","bin":{"binned":true,"step":0.21},"scale":{"domain":[2.5,4.42],"nice":false,"zero":false},"axis":{"values":[2.5,3,3.5,4],"format":".1f","title":"Semi-major axis (au)"}},
"y":{"field":"y","type":"quantitative","bin":{"binned":true,"step":0.115},"scale":{"domain":[1,4],"nice":false,"zero":false},"axis":{"values":[1,1.5,2,2.5,3,3.5,4],"format":".1f","title":"Planet radius (RJup)"}},
"color":{"field":"v","type":"quantitative","scale":{"scheme":"magma","reverse":true,"domain":[0,100]},"legend":{"type":"gradient","title":null,"gradientLength":209,"gradientThickness":13,"values":[0,20,40,60,80,100],"offset":16,"direction":"vertical","gradientStrokeColor":"black","gradientStrokeWidth":0.8,"labelOffset":9,"labelBaseline":"middle"}}}},
{"data":{"name":"la"},"mark":{"type":"line","color":"white","strokeWidth":2,"clip":true},"encoding":{"x":{"field":"x","type":"quantitative"},"y":{"field":"y","type":"quantitative"},"detail":{"field":"k"}}},
{"data":{"name":"ta"},"mark":{"type":"text","color":"white","fontSize":13.5,"clip":true},"encoding":{"x":{"field":"x","type":"quantitative"},"y":{"field":"y","type":"quantitative"},"text":{"field":"t"},"angle":{"field":"g","type":"quantitative","scale":null}}}
]},
{"title":"i = 34 deg","width":262,"height":209,"layer":[
{"data":{"name":"hb"},"mark":{"type":"rect","clip":true},"encoding":{
"x":{"field":"x","type":"quantitative","bin":{"binned":true,"step":0.21},"scale":{"domain":[2.5,4.42],"nice":false,"zero":false},"axis":{"values":[2.5,3,3.5,4],"format":".1f","title":"Semi-major axis (au)"}},
"y":{"field":"y","type":"quantitative","bin":{"binned":true,"step":0.115},"scale":{"domain":[1,4],"nice":false,"zero":false},"axis":{"values":[1,1.5,2,2.5,3,3.5,4],"format":".1f","title":"Planet radius (RJup)"}},
"color":{"field":"v","type":"quantitative","scale":{"scheme":"magma","reverse":true,"domain":[0,100]},"legend":{"type":"gradient","title":null,"gradientLength":209,"gradientThickness":13,"values":[0,20,40,60,80,100],"offset":16,"direction":"vertical","gradientStrokeColor":"black","gradientStrokeWidth":0.8,"labelOffset":9,"labelBaseline":"middle"}}}},
{"data":{"name":"lb"},"mark":{"type":"line","color":"white","strokeWidth":2,"clip":true},"encoding":{"x":{"field":"x","type":"quantitative"},"y":{"field":"y","type":"quantitative"},"detail":{"field":"k"}}},
{"data":{"name":"tb"},"mark":{"type":"text","color":"white","fontSize":13.5,"clip":true},"encoding":{"x":{"field":"x","type":"quantitative"},"y":{"field":"y","type":"quantitative"},"text":{"field":"t"},"angle":{"field":"g","type":"quantitative","scale":null}}}
]},
{"title":"i = 67 deg","width":262,"height":209,"layer":[
{"data":{"name":"hc"},"mark":{"type":"rect","clip":true},"encoding":{
"x":{"field":"x","type":"quantitative","bin":{"binned":true,"step":0.21},"scale":{"domain":[2.5,4.42],"nice":false,"zero":false},"axis":{"values":[2.5,3,3.5,4],"format":".1f","title":"Semi-major axis (au)"}},
"y":{"field":"y","type":"quantitative","bin":{"binned":true,"step":0.115},"scale":{"domain":[1,4],"nice":false,"zero":false},"axis":{"values":[1,1.5,2,2.5,3,3.5,4],"format":".1f","title":"Planet radius (RJup)"}},
"color":{"field":"v","type":"quantitative","scale":{"scheme":"magma","reverse":true,"domain":[0,100]},"legend":{"type":"gradient","title":null,"gradientLength":209,"gradientThickness":13,"values":[0,20,40,60,80,100],"offset":16,"direction":"vertical","gradientStrokeColor":"black","gradientStrokeWidth":0.8,"labelOffset":9,"labelBaseline":"middle"}}}},
{"data":{"name":"lc"},"mark":{"type":"line","color":"white","strokeWidth":2,"clip":true},"encoding":{"x":{"field":"x","type":"quantitative"},"y":{"field":"y","type":"quantitative"},"detail":{"field":"k"}}},
{"data":{"name":"tc"},"mark":{"type":"text","color":"white","fontSize":13.5,"clip":true},"encoding":{"x":{"field":"x","type":"quantitative"},"y":{"field":"y","type":"quantitative"},"text":{"field":"t"},"angle":{"field":"g","type":"quantitative","scale":null}}}
]}
]
}
